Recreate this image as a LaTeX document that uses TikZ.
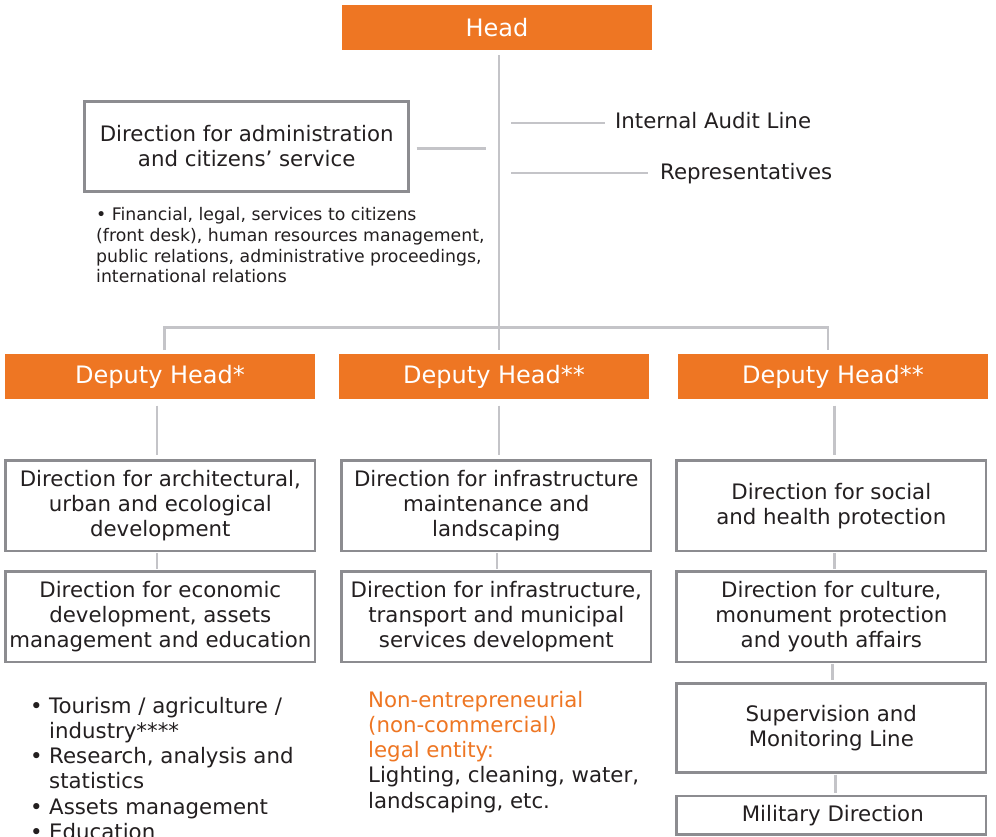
\documentclass[tikz,border=0pt]{standalone}
\usepackage{fontspec}
\setmainfont{DejaVu Sans}
\definecolor{brandorange}{HTML}{EE7623}
\definecolor{boxgray}{HTML}{8C8C90}
\definecolor{linegray}{HTML}{C4C4C8}
\definecolor{ink}{HTML}{231F20}
\begin{document}
\begin{tikzpicture}[x=1pt,y=-1pt,
  headbox/.style={fill=brandorange, text=white, inner sep=0pt, outer sep=0pt,
    minimum width=310pt, minimum height=45pt, font=\fontsize{24}{28}\selectfont},
  dirbox/.style={draw=boxgray, line width=2.6pt, fill=white, text=ink, inner sep=0pt,
    outer sep=0pt, align=center, minimum width=309.4pt, minimum height=90.4pt,
    font=\fontsize{21.3}{25.3}\selectfont},
  conn/.style={draw=linegray, line width=2.4pt},
  label/.style={text=ink, inner sep=0pt, font=\fontsize{21.3}{25.3}\selectfont},
  small/.style={text=ink, inner sep=0pt, font=\fontsize{17.3}{20.7}\selectfont},
  accent/.style={text=brandorange, inner sep=0pt, font=\fontsize{21.3}{25.3}\selectfont}]
\clip (0,0) rectangle (996,836);
\fill[white] (0,0) rectangle (996,836);

% top of the chart
\node[headbox] (head) at (497,27.5) {Head};
\node[dirbox, minimum width=324pt, minimum height=90pt] (admin) at (246.7,146.3)
  {Direction for administration\\and citizens’ service};

% staff lines hanging off the trunk
\coordinate (trunk) at (499,150);
\coordinate (t0) at (499,148.3);
\coordinate (t1) at (499,122.7);
\coordinate (t2) at (499,172.7);
\node[label, anchor=base west] (audit) at (615,128) {Internal Audit Line};
\node[label, anchor=base west] (reps) at (660,179) {Representatives};

% admin duties
\node[small, anchor=base west] (fin1) at (96,220.7) {\textbullet\ Financial, legal, services to citizens};
\node[small, anchor=base west] (fin2) at (96,241.4) {(front desk), human resources management,};
\node[small, anchor=base west] (fin3) at (96,262.1) {public relations, administrative proceedings,};
\node[small, anchor=base west] (fin4) at (96,282.8) {international relations};

% deputies
\node[headbox] (dep1) at (160,376.5) {Deputy Head*};
\node[headbox] (dep2) at (494,376.5) {Deputy Head**};
\node[headbox] (dep3) at (833,376.5) {Deputy Head**};

% directions, left column
\node[dirbox] (a1) at (160.3,505.8) {Direction for architectural,\\urban and ecological\\development};
\node[dirbox] (a2) at (160.3,616.8) {Direction for economic\\development, assets\\management and education};

% directions, middle column
\node[dirbox] (b1) at (496.3,505.8) {Direction for infrastructure\\maintenance and\\landscaping};
\node[dirbox] (b2) at (496.3,616.8) {Direction for infrastructure,\\transport and municipal\\services development};

% directions, right column
\node[dirbox] (c1) at (831.3,505.8) {Direction for social\\and health protection};
\node[dirbox] (c2) at (831.3,616.8) {Direction for culture,\\monument protection\\and youth affairs};
\node[dirbox, minimum height=89.4pt] (c3) at (831.3,728) {Supervision and\\Monitoring Line};
\node[dirbox, minimum height=38.4pt] (c4) at (831.3,815.2) {\hspace{3pt}Military Direction};

% tasks under the left column
\node[label, anchor=base west] (l1) at (49,713) {\llap{\textbullet\hspace{6.5pt}}Tourism / agriculture /};
\node[label, anchor=base west] (l2) at (49,738.3) {industry****};
\node[label, anchor=base west] (l3) at (49,763.6) {\llap{\textbullet\hspace{6.5pt}}Research, analysis and};
\node[label, anchor=base west] (l4) at (49,788.9) {statistics};
\node[label, anchor=base west] (l5) at (49,814.2) {\llap{\textbullet\hspace{6.5pt}}Assets management};
\node[label, anchor=base west] (l6) at (49,839.5) {\llap{\textbullet\hspace{6.5pt}}Education};

% utility company under the middle column
\node[accent, anchor=base west] (m1) at (368,707) {Non-entrepreneurial};
\node[accent, anchor=base west] (m2) at (368,732.3) {(non-commercial)};
\node[accent, anchor=base west] (m3) at (368,757.6) {legal entity:};
\node[label, anchor=base west] (m4) at (368,782.9) {Lighting, cleaning, water,};
\node[label, anchor=base west] (m5) at (368,808.2) {landscaping, etc.};

% connectors
\draw[conn, shorten <=5pt, shorten >=4pt] (head.south -| trunk) -- (dep2.north -| trunk);
\draw[conn, shorten <=8pt, shorten >=13pt] (admin.east |- t0) -- (t0);
\draw[conn, shorten <=12pt, shorten >=10pt] (t1) -- (t1 -| audit.west);
\draw[conn, shorten <=12pt, shorten >=12pt] (t2) -- (t2 -| reps.west);

\coordinate (jL) at (164.3,327.3);
\coordinate (jR) at (827.7,327.3);
\draw[conn, shorten <=4pt, shorten >=4pt] (dep1.north -| jL) -- (jL) -- (jR) -- (dep3.north -| jR);

\draw[conn, shorten <=6.7pt, shorten >=5.6pt] ([xshift=-3.3pt]dep1.south) -- ([xshift=-3.6pt]a1.north);
\draw[conn, shorten <=6.7pt, shorten >=5.6pt] ([xshift=5pt]dep2.south) -- ([xshift=2.7pt]b1.north);
\draw[conn, shorten <=6.7pt, shorten >=5.6pt] ([xshift=1.3pt]dep3.south) -- ([xshift=3pt]c1.north);

\draw[conn, shorten <=2pt, shorten >=3pt] ([xshift=-3.6pt]a1.south) -- ([xshift=-3.6pt]a2.north);
\draw[conn, shorten <=2pt, shorten >=3pt] ([xshift=0.4pt]b1.south) -- ([xshift=0.4pt]b2.north);
\draw[conn, shorten <=2pt, shorten >=3pt] ([xshift=3pt]c1.south) -- ([xshift=3pt]c2.north);
\draw[conn, shorten <=2pt, shorten >=3pt] ([xshift=1pt]c2.south) -- ([xshift=1pt]c3.north);
\draw[conn, shorten <=2pt, shorten >=3pt] ([xshift=4pt]c3.south) -- ([xshift=4pt]c4.north);
\end{tikzpicture}
\end{document}
